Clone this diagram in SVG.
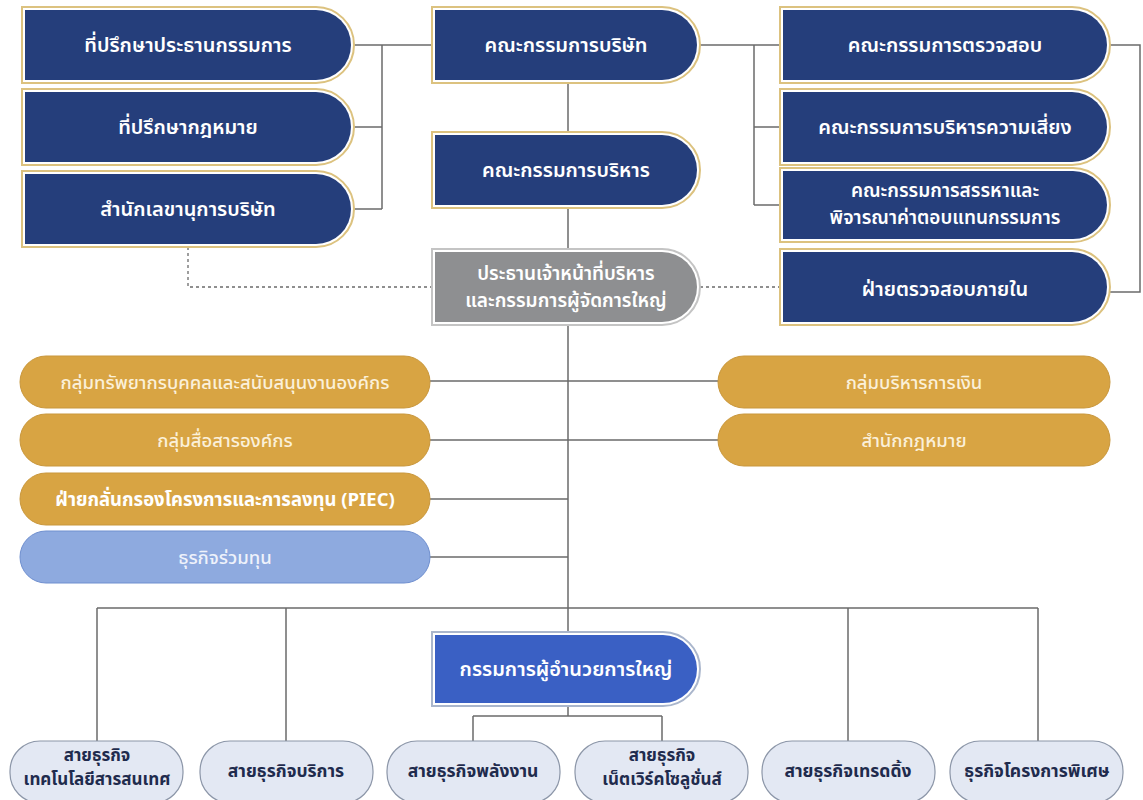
<svg xmlns="http://www.w3.org/2000/svg" width="1143" height="800" viewBox="0 0 1143 800">
<style>
.bg{fill:#ffffff}
.gold-o{fill:#ffffff;stroke:#dcc27f;stroke-width:2}
.navy{fill:#253e7b}
.gray-o{fill:#ffffff;stroke:#c4c4c4;stroke-width:2}
.gray{fill:#8e8f91}
.dir-o{fill:#ffffff;stroke:#aab6cc;stroke-width:2}
.dir{fill:#3a60c4}
.pill-gold{fill:#d8a443;stroke:#c9973c;stroke-width:1}
.pill-blue{fill:#8eaadf;stroke:#6f8fcf;stroke-width:1}
.pill-light{fill:#e3e8f3;stroke:#8c96a8;stroke-width:1.2}
.t{font-family:"Noto Sans Thai","Noto Sans","DejaVu Sans",sans-serif;text-anchor:middle}
.tw{fill:#ffffff;font-size:20px;font-weight:600}
.tw2{fill:#ffffff;font-size:19px;font-weight:600}
.tg{fill:#fbf0d9;font-size:18.5px;font-weight:500}
.tgb{fill:#ffffff;font-size:18.5px;font-weight:700}
.tb{fill:#eef2fb;font-size:18.5px;font-weight:500}
.td{fill:#1f2b4d;font-size:17.5px;font-weight:700}
.td2{fill:#1f2b4d;font-size:17px;font-weight:700}
.ln{fill:none;stroke:#6b6b6b;stroke-width:1.5}
.dash{fill:none;stroke:#6b6b6b;stroke-width:1.3;stroke-dasharray:3 3}
</style>
<rect class="bg" x="0" y="0" width="1143" height="800"/>

<g id="connectors">
<path class="ln" d="M354,45 H432 M382,45 V209 M354,127 H382 M354,209 H382"/>
<path class="ln" d="M700,45 H780 M754,45 V205 M754,127 H780 M754,205 H780"/>
<path class="ln" d="M1110,45 H1140 V292 H1110"/>
<path class="ln" d="M568,83 V132 M568,208 V249 M568,325 V632 M568,706 V716"/>
<path class="ln" d="M430,381 H718 M430,440 H718 M430,499 H568 M430,557 H568"/>
<path class="ln" d="M97,608 H1038 M97,608 V741 M286,608 V741 M848,608 V741 M1038,608 V741"/>
<path class="ln" d="M473,716 H662 M473,716 V741 M662,716 V741"/>
<path class="dash" d="M188,247 V287 H432 M700,287 H780"/>
</g>

<g id="n-advisor-chair">
<path class="gold-o" d="M22,7 H316 A38,38 0 0 1 316,83 H22 Z"/>
<path class="navy" d="M25,10 H316 A35,35 0 0 1 316,80 H25 Z"/>
<text class="t tw" x="188" y="52">ที่ปรึกษาประธานกรรมการ</text>
</g>
<g id="n-legal-advisor">
<path class="gold-o" d="M22,89 H316 A38,38 0 0 1 316,165 H22 Z"/>
<path class="navy" d="M25,92 H316 A35,35 0 0 1 316,162 H25 Z"/>
<text class="t tw" x="188" y="134">ที่ปรึกษากฎหมาย</text>
</g>
<g id="n-secretary">
<path class="gold-o" d="M22,171 H316 A38,38 0 0 1 316,247 H22 Z"/>
<path class="navy" d="M25,174 H316 A35,35 0 0 1 316,244 H25 Z"/>
<text class="t tw" x="188" y="216">สำนักเลขานุการบริษัท</text>
</g>

<g id="n-board">
<path class="gold-o" d="M432,7 H662 A38,38 0 0 1 662,83 H432 Z"/>
<path class="navy" d="M435,10 H662 A35,35 0 0 1 662,80 H435 Z"/>
<text class="t tw" x="566" y="52">คณะกรรมการบริษัท</text>
</g>
<g id="n-exec-board">
<path class="gold-o" d="M432,132 H662 A38,38 0 0 1 662,208 H432 Z"/>
<path class="navy" d="M435,135 H662 A35,35 0 0 1 662,205 H435 Z"/>
<text class="t tw" x="566" y="177">คณะกรรมการบริหาร</text>
</g>
<g id="n-ceo">
<path class="gray-o" d="M432,249 H662 A38,38 0 0 1 662,325 H432 Z"/>
<path class="gray" d="M435,252 H662 A35,35 0 0 1 662,322 H435 Z"/>
<text class="t tw2" x="566" y="280"><tspan x="566">ประธานเจ้าหน้าที่บริหาร</tspan><tspan x="566" dy="27">และกรรมการผู้จัดการใหญ่</tspan></text>
</g>

<g id="n-audit">
<path class="gold-o" d="M780,7 H1072 A38,38 0 0 1 1072,83 H780 Z"/>
<path class="navy" d="M783,10 H1072 A35,35 0 0 1 1072,80 H783 Z"/>
<text class="t tw" x="945" y="52">คณะกรรมการตรวจสอบ</text>
</g>
<g id="n-risk">
<path class="gold-o" d="M780,89 H1072 A38,38 0 0 1 1072,165 H780 Z"/>
<path class="navy" d="M783,92 H1072 A35,35 0 0 1 1072,162 H783 Z"/>
<text class="t tw" x="945" y="134">คณะกรรมการบริหารความเสี่ยง</text>
</g>
<g id="n-nomination">
<path class="gold-o" d="M780,168 H1073 A37,37 0 0 1 1073,242 H780 Z"/>
<path class="navy" d="M783,171 H1073 A34,34 0 0 1 1073,239 H783 Z"/>
<text class="t tw2" x="945" y="197"><tspan x="945">คณะกรรมการสรรหาและ</tspan><tspan x="945" dy="27">พิจารณาค่าตอบแทนกรรมการ</tspan></text>
</g>
<g id="n-internal-audit">
<path class="gold-o" d="M780,249 H1072 A38,38 0 0 1 1072,325 H780 Z"/>
<path class="navy" d="M783,252 H1072 A35,35 0 0 1 1072,322 H783 Z"/>
<text class="t tw" x="945" y="296">ฝ่ายตรวจสอบภายใน</text>
</g>

<g id="n-hr">
<rect class="pill-gold" x="20" y="356" width="410" height="52" rx="26"/>
<text class="t tg" x="225" y="388.5">กลุ่มทรัพยากรบุคคลและสนับสนุนงานองค์กร</text>
</g>
<g id="n-comm">
<rect class="pill-gold" x="20" y="414" width="410" height="52" rx="26"/>
<text class="t tg" x="225" y="446.5">กลุ่มสื่อสารองค์กร</text>
</g>
<g id="n-piec">
<rect class="pill-gold" x="20" y="473" width="410" height="52" rx="26"/>
<text class="t tgb" x="225" y="505.5">ฝ่ายกลั่นกรองโครงการและการลงทุน (PIEC)</text>
</g>
<g id="n-jv">
<rect class="pill-blue" x="20" y="531" width="410" height="52" rx="26"/>
<text class="t tb" x="225" y="563.5">ธุรกิจร่วมทุน</text>
</g>
<g id="n-finance">
<rect class="pill-gold" x="718" y="356" width="392" height="52" rx="26"/>
<text class="t tg" x="914" y="388.5">กลุ่มบริหารการเงิน</text>
</g>
<g id="n-legal">
<rect class="pill-gold" x="718" y="414" width="392" height="52" rx="26"/>
<text class="t tg" x="914" y="446.5">สำนักกฎหมาย</text>
</g>

<g id="n-president">
<path class="dir-o" d="M432,632 H663 A37,37 0 0 1 663,706 H432 Z"/>
<path class="dir" d="M435,635 H663 A34,34 0 0 1 663,703 H435 Z"/>
<text class="t tw" x="566" y="676">กรรมการผู้อำนวยการใหญ่</text>
</g>

<g id="n-ict">
<rect class="pill-light" x="10" y="741" width="173" height="62" rx="30"/>
<text class="t td2" x="97" y="761"><tspan x="97">สายธุรกิจ</tspan><tspan x="97" dy="24">เทคโนโลยีสารสนเทศ</tspan></text>
</g>
<g id="n-service">
<rect class="pill-light" x="200" y="741" width="173" height="62" rx="30"/>
<text class="t td" x="286" y="777">สายธุรกิจบริการ</text>
</g>
<g id="n-energy">
<rect class="pill-light" x="387" y="741" width="173" height="62" rx="30"/>
<text class="t td" x="473" y="777">สายธุรกิจพลังงาน</text>
</g>
<g id="n-network">
<rect class="pill-light" x="575" y="741" width="173" height="62" rx="30"/>
<text class="t td2" x="662" y="761"><tspan x="662">สายธุรกิจ</tspan><tspan x="662" dy="24">เน็ตเวิร์คโซลูชั่นส์</tspan></text>
</g>
<g id="n-trading">
<rect class="pill-light" x="762" y="741" width="173" height="62" rx="30"/>
<text class="t td" x="848" y="777">สายธุรกิจเทรดดิ้ง</text>
</g>
<g id="n-special">
<rect class="pill-light" x="950" y="741" width="173" height="62" rx="30"/>
<text class="t td" x="1037" y="777">ธุรกิจโครงการพิเศษ</text>
</g>
</svg>
